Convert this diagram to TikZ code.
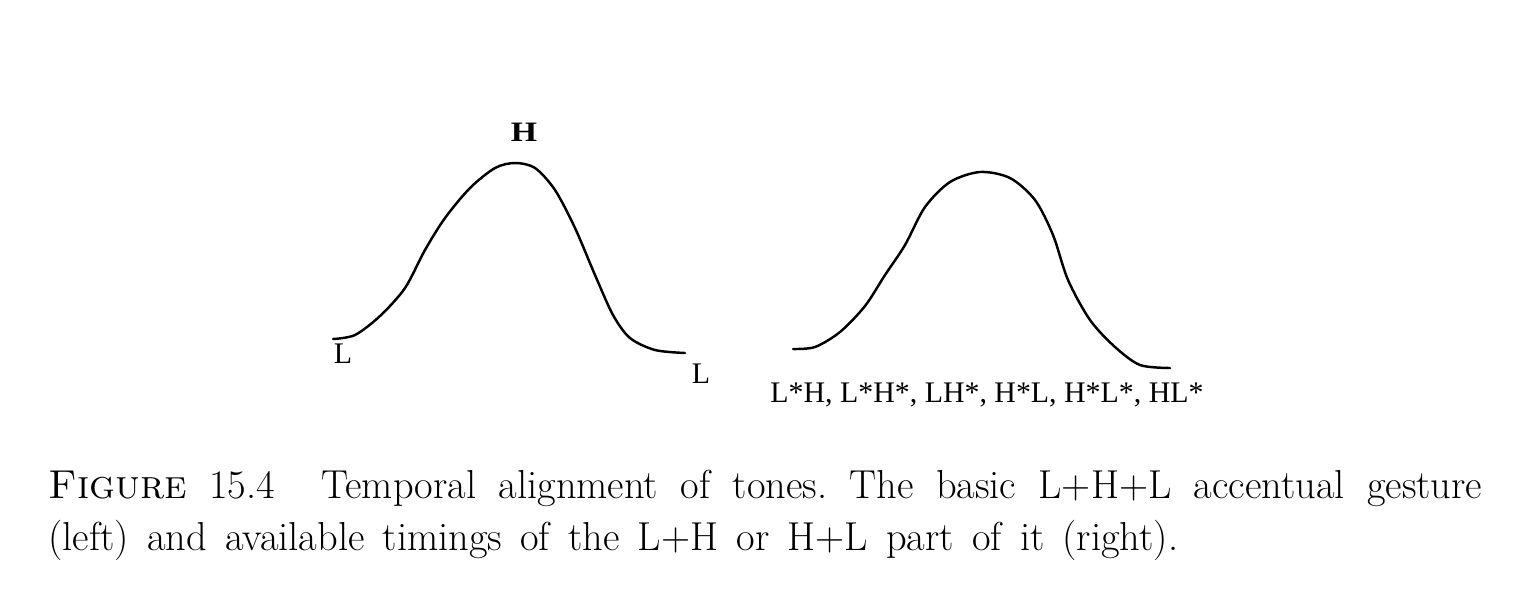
\documentclass[tikz,border=0pt]{standalone}
\usepackage{fontspec}
\newfontfamily\tonefont{Liberation Serif}
\usetikzlibrary{positioning}

\tikzset{
  contour/.style={line width=1.4pt, line join=round, line cap=round},
  tone/.style={font=\tonefont\fontsize{17}{19}\selectfont, inner sep=0pt, anchor=base},
  caption/.style={anchor=north west, inner sep=0pt, text width=28.68cm, align=justify,
    font=\fontsize{23}{29.6}\selectfont}
}

\begin{document}
\begin{tikzpicture}
    \useasboundingbox (0,0) rectangle (30.32,12.08);

    % Gesture (left)
    \draw[contour] plot[smooth] coordinates {(6.66,5.30) (7.10,5.38) (7.60,5.76) (8.10,6.32) (8.50,7.08) (8.90,7.72) (9.40,8.32) (9.90,8.72) (10.30,8.82) (10.70,8.72) (11.10,8.28) (11.50,7.52) (11.90,6.58) (12.26,5.78) (12.60,5.32) (13.10,5.08) (13.70,5.02)};
    \node[tone, font=\tonefont\bfseries\fontsize{16}{18}\selectfont] (peak_h) at (10.48,9.26) {\scalebox{1.2}[1]{H}};
    \node[tone] (start_l) at (6.86,4.82) {L};
    \node[tone] (end_l) at (14.02,4.42) {L};

    % Timings (right)
    \draw[contour] plot[smooth] coordinates {(15.86,5.10) (16.30,5.14) (16.80,5.44) (17.30,5.96) (17.70,6.58) (18.10,7.18) (18.50,7.94) (19.00,8.44) (19.60,8.64) (20.20,8.52) (20.70,8.08) (21.06,7.38) (21.36,6.48) (21.80,5.68) (22.30,5.14) (22.80,4.78) (23.40,4.72)};
    \node[tone] (timings) at (19.74,4.04) {L*H, L*H*, LH*, H*L, H*L*, HL*};

    % Caption
    \node[caption] (fig_caption) at (0.96,2.68) {\noindent\frenchspacing\spaceskip=0.45em plus 0.4em minus 0.1em
      \textsc{Figure} 15.4\hspace{0.6em} Temporal alignment of tones. The basic L+H+L accentual gesture\linebreak (left) and available timings of the L+H or H+L part of it (right).};
\end{tikzpicture}
\end{document}
